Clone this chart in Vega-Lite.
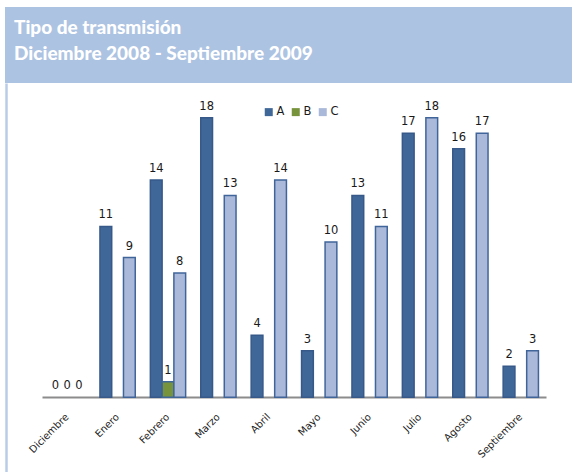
{
  "$schema": "https://vega.github.io/schema/vega-lite/v6.json",
  "padding": {"left": 5, "top": 7, "right": 0, "bottom": 0},
  "background": "white",
  "spacing": 0,
  "config": {"view": {"stroke": null}, "font": "DejaVu Sans"},
  "resolve": {"scale": {"color": "independent"}, "legend": {"color": "independent"}},
  "vconcat": [
    {
      "width": 567,
      "height": 76,
      "view": {"fill": "#adc3e2", "stroke": null},
      "data": {"values": [{"t": ""}]},
      "mark": {"type": "text"},
      "encoding": {"text": {"field": "t"}},
      "title": {
        "text": ["Tipo de transmisión", "Diciembre 2008 - Septiembre 2009"],
        "anchor": "start",
        "frame": "group",
        "orient": "bottom",
        "offset": -64,
        "baseline": "top",
        "dx": 9,
        "color": "white",
        "font": "Lato",
        "fontWeight": 900,
        "fontSize": 19,
        "lineHeight": 26
      }
    },
    {
      "width": 567,
      "height": 389,
      "data": {
        "values": [
          {"mes": "Diciembre", "serie": "A", "valor": 0},
          {"mes": "Diciembre", "serie": "B", "valor": 0},
          {"mes": "Diciembre", "serie": "C", "valor": 0},
          {"mes": "Enero", "serie": "A", "valor": 11},
          {"mes": "Enero", "serie": "C", "valor": 9},
          {"mes": "Febrero", "serie": "A", "valor": 14},
          {"mes": "Febrero", "serie": "B", "valor": 1},
          {"mes": "Febrero", "serie": "C", "valor": 8},
          {"mes": "Marzo", "serie": "A", "valor": 18},
          {"mes": "Marzo", "serie": "C", "valor": 13},
          {"mes": "Abril", "serie": "A", "valor": 4},
          {"mes": "Abril", "serie": "C", "valor": 14},
          {"mes": "Mayo", "serie": "A", "valor": 3},
          {"mes": "Mayo", "serie": "C", "valor": 10},
          {"mes": "Junio", "serie": "A", "valor": 13},
          {"mes": "Junio", "serie": "C", "valor": 11},
          {"mes": "Julio", "serie": "A", "valor": 17},
          {"mes": "Julio", "serie": "C", "valor": 18},
          {"mes": "Agosto", "serie": "A", "valor": 16},
          {"mes": "Agosto", "serie": "C", "valor": 17},
          {"mes": "Septiembre", "serie": "A", "valor": 2},
          {"mes": "Septiembre", "serie": "C", "valor": 3}
        ]
      },
      "encoding": {
        "x": {
          "field": "mes",
          "type": "nominal",
          "sort": ["Diciembre", "Enero", "Febrero", "Marzo", "Abril", "Mayo", "Junio", "Julio", "Agosto", "Septiembre"],
          "scale": {"range": [37, 541], "paddingInner": 0.3, "paddingOuter": 0.15},
          "axis": {
            "orient": "bottom",
            "offset": -75,
            "title": null,
            "domainColor": "#8c8c8c",
            "domainWidth": 2,
            "ticks": false,
            "labelAngle": -45,
            "labelAlign": "right",
            "labelBaseline": "middle",
            "labelFontSize": 10,
            "labelColor": "#222222",
            "labelPadding": 18
          }
        },
        "xOffset": {
          "field": "serie",
          "type": "nominal",
          "scale": {"domain": ["A", "B", "C"], "paddingInner": 0, "paddingOuter": 0}
        },
        "y": {
          "field": "valor",
          "type": "quantitative",
          "scale": {"domain": [-4.81, 20.24], "nice": false, "zero": false},
          "axis": {
            "orient": "left",
            "offset": -1,
            "title": null,
            "labels": false,
            "ticks": false,
            "grid": false,
            "domainColor": "#b8cce8",
            "domainWidth": 2.5
          }
        }
      },
      "layer": [
        {
          "transform": [{"filter": "datum.valor > 0"}],
          "mark": {"type": "bar", "strokeWidth": 1.5},
          "encoding": {
            "color": {
              "field": "serie",
              "type": "nominal",
              "scale": {"domain": ["A", "B", "C"], "range": ["#3f6797", "#77933c", "#aab9d9"]},
              "legend": {
                "orient": "none",
                "legendX": 258,
                "legendY": 23,
                "direction": "horizontal",
                "title": null,
                "symbolType": "square",
                "symbolSize": 64,
                "symbolStrokeWidth": 1,
                "labelFontSize": 11.5,
                "labelColor": "#1a1a1a",
                "columnPadding": 5,
                "labelOffset": 2,
                "padding": 0
              }
            },
            "stroke": {
              "field": "serie",
              "type": "nominal",
              "scale": {"domain": ["A", "B", "C"], "range": ["#36598a", "#3f6797", "#40659a"]},
              "legend": null
            }
          }
        },
        {
          "mark": {"type": "text", "baseline": "alphabetic", "dy": -8, "fontSize": 11.5, "color": "#1a1a1a"},
          "encoding": {"text": {"field": "valor", "type": "quantitative"}}
        }
      ]
    }
  ]
}
